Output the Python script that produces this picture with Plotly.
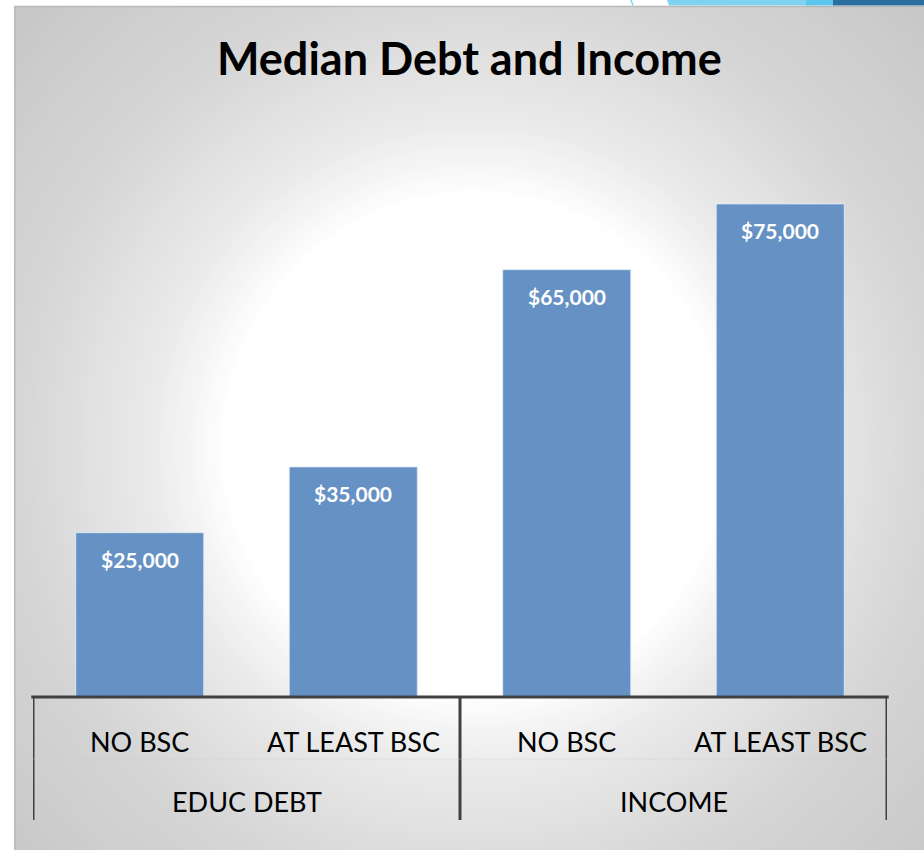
import plotly.graph_objects as go

# ---- data ----
groups = ["EDUC DEBT", "EDUC DEBT", "INCOME", "INCOME"]
categories = ["NO BSC", "AT LEAST BSC", "NO BSC", "AT LEAST BSC"]
group_labels = ["EDUC DEBT", "INCOME"]
values = [25000, 35000, 65000, 75000]
value_labels = ["$25,000", "$35,000", "$65,000", "$75,000"]
title_text = "Median Debt and Income"

W, H = 924, 850
L, R, T, B = 33, 887, 171, 697  # plot area in pixels


def px2x(px):
    return (px - L) / (R - L)


def py2y(py):
    return (B - py) / (B - T)


xpos = list(range(len(categories)))

fig = go.Figure()
fig.add_trace(go.Bar(
    x=xpos, y=values, width=0.6,
    marker=dict(color="#6691c4", line=dict(color="rgba(225,235,248,0.9)", width=1)),
    hoverinfo="skip", showlegend=False,
))

shapes = []
# chart box base
shapes.append(dict(type="rect", xref="paper", yref="paper", layer="below",
                   x0=px2x(14), x1=px2x(W), y0=py2y(H), y1=py2y(6),
                   fillcolor="rgb(196,196,196)", line=dict(width=0)))
# radial gradient via concentric circles (styling only)
cx, cy = 475, 445
stops = [(250, 255), (290, 244), (330, 234), (400, 223), (466, 213), (566, 205), (630, 199), (700, 195)]


def gray_at(r):
    for (r0, g0), (r1, g1) in zip(stops[:-1], stops[1:]):
        if r0 <= r <= r1:
            return g0 + (g1 - g0) * (r - r0) / (r1 - r0)
    return stops[-1][1] if r > stops[-1][0] else 255


r = 700
while r >= 250:
    g = int(round(gray_at(r)))
    shapes.append(dict(type="circle", xref="paper", yref="paper", layer="below",
                       x0=px2x(cx - r), x1=px2x(cx + r), y0=py2y(cy + r), y1=py2y(cy - r),
                       fillcolor=f"rgb({g},{g},{g})", line=dict(width=0)))
    r -= 5
# white strips outside chart box
shapes.append(dict(type="rect", xref="paper", yref="paper", layer="below",
                   x0=px2x(-5), x1=px2x(14), y0=py2y(H + 5), y1=py2y(-5),
                   fillcolor="white", line=dict(width=0)))
shapes.append(dict(type="rect", xref="paper", yref="paper", layer="below",
                   x0=px2x(-5), x1=px2x(W + 5), y0=py2y(6), y1=py2y(-5),
                   fillcolor="white", line=dict(width=0)))
# chart box border lines (top and left)
shapes.append(dict(type="line", xref="paper", yref="paper", layer="below",
                   x0=px2x(14), x1=px2x(W), y0=py2y(6.5), y1=py2y(6.5),
                   line=dict(color="rgb(185,185,185)", width=1.5)))
shapes.append(dict(type="line", xref="paper", yref="paper", layer="below",
                   x0=px2x(14.8), x1=px2x(14.8), y0=py2y(6), y1=py2y(H),
                   line=dict(color="rgb(185,185,185)", width=1.5)))
# top-right slide decoration
shapes.append(dict(type="line", xref="paper", yref="paper", layer="below",
                   x0=px2x(631), x1=px2x(633), y0=py2y(0), y1=py2y(5.5),
                   line=dict(color="#7fd3ee", width=1.5)))
shapes.append(dict(type="path", xref="paper", yref="paper", layer="below",
                   path=f"M {px2x(667)} {py2y(0)} L {px2x(808)} {py2y(0)} L {px2x(808)} {py2y(5.5)} L {px2x(669)} {py2y(5.5)} Z",
                   fillcolor="#80d3ee", line=dict(width=0)))
shapes.append(dict(type="rect", xref="paper", yref="paper", layer="below",
                   x0=px2x(806), x1=px2x(834), y0=py2y(5.5), y1=py2y(0),
                   fillcolor="#5cc6ec", line=dict(width=0)))
shapes.append(dict(type="rect", xref="paper", yref="paper", layer="below",
                   x0=px2x(833), x1=px2x(W), y0=py2y(5.5), y1=py2y(0),
                   fillcolor="#2a6f9f", line=dict(width=0)))

# axis dividers
for xd in [-0.5, 1.5, 3.5]:
    shapes.append(dict(type="line", xref="x", yref="paper",
                       x0=xd, x1=xd, y0=py2y(697), y1=py2y(820),
                       line=dict(color="#404040", width=3)))
shapes.append(dict(type="line", xref="paper", yref="paper",
                   x0=0, x1=1, y0=py2y(759), y1=py2y(759),
                   line=dict(color="rgba(200,200,200,0.35)", width=1)))
shapes.append(dict(type="line", xref="paper", yref="paper",
                   x0=-0.002, x1=1.002, y0=0, y1=0,
                   line=dict(color="#404040", width=3)))

annotations = []
font_tick = dict(family="Lato, Open Sans, sans-serif", size=27, color="black")
for i, c in enumerate(categories):
    annotations.append(dict(x=i, y=py2y(741), xref="x", yref="paper", text=c,
                            showarrow=False, font=font_tick, xanchor="center", yanchor="middle"))
for gi, gname in enumerate(group_labels):
    idx = [i for i, g in enumerate(groups) if g == gname]
    annotations.append(dict(x=sum(idx) / len(idx), y=py2y(801), xref="x", yref="paper", text=gname,
                            showarrow=False, font=font_tick, xanchor="center", yanchor="middle"))
for i, (v, lab) in enumerate(zip(values, value_labels)):
    annotations.append(dict(x=i, y=v, xref="x", yref="y", text=f"<b>{lab}</b>", yshift=-27,
                            showarrow=False, xanchor="center", yanchor="middle",
                            font=dict(family="Lato, Open Sans, sans-serif", size=21, color="white")))
annotations.append(dict(x=px2x(469), y=py2y(58), xref="paper", yref="paper",
                        text=f"<b>{title_text}</b>", showarrow=False,
                        xanchor="center", yanchor="middle",
                        font=dict(family="Lato, Open Sans, sans-serif", size=45, color="black")))

fig.update_layout(
    width=W, height=H,
    margin=dict(l=L, r=W - R, t=T, b=H - B, pad=0),
    paper_bgcolor="white", plot_bgcolor="rgba(0,0,0,0)",
    shapes=shapes, annotations=annotations,
    xaxis=dict(range=[-0.5, 3.5], showticklabels=False, showgrid=False, zeroline=False,
               showline=False, ticks="", fixedrange=True),
    yaxis=dict(range=[0, 80000], showticklabels=False, showgrid=False, zeroline=False,
               showline=False, ticks="", fixedrange=True),
    bargap=0.4,
)

fig.write_html("out.html", config={"displayModeBar": False},
               post_script="document.body.style.margin='0';document.body.style.overflow='hidden';")
